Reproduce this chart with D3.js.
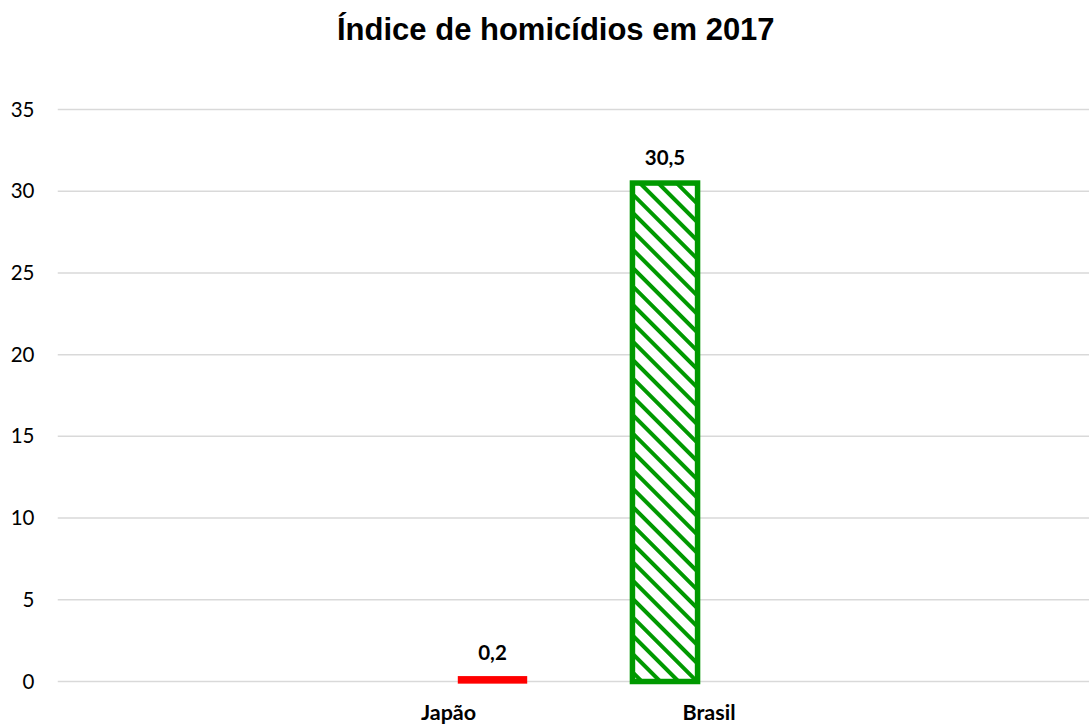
<!DOCTYPE html>
<html>
<head>
<meta charset="utf-8">
<script src="https://cdn.jsdelivr.net/npm/d3@7"></script>
<style>
  html, body { margin: 0; padding: 0; background: #fff; }
  svg { display: block; }
</style>
</head>
<body>
<svg id="chart" width="1089" height="724"></svg>
<script>
// Categories along the x axis (blank slots at both ends keep the spacing)
const categories = ["", "Japão", "Brasil", ""];
// One series per country, each with a value only in its own category
const seriesNames = ["Brasil", "Japão"];
const japaoValues = [null, 0.2, null, null];
const brasilValues = [null, null, 30.5, null];
const yTicks = [0, 5, 10, 15, 20, 25, 30, 35];
const titleText = "Índice de homicídios em 2017";

(function draw() {
  const svg = d3.select("#chart");
  const W = 1089;
  const plotLeft = 57.75, plotRight = 1099.75, plotTop = 109.5, plotBottom = 681.5;
  const bodyFont = "Lato, 'Open Sans', sans-serif";

  const y = d3.scaleLinear().domain([0, 35]).range([plotBottom, plotTop]);
  const x0 = d3.scaleBand().domain(categories.map((c, i) => i)).range([plotLeft, plotRight]).padding(0);
  const bw = x0.bandwidth();
  const x1 = d3.scaleBand().domain(seriesNames)
    .range([bw / 2 - 88, bw / 2 + 88]).paddingInner(0.26).paddingOuter(0.13);

  // Hatch pattern for the Brasil bar
  const defs = svg.append("defs");
  const pat = defs.append("pattern")
    .attr("id", "hatch").attr("patternUnits", "userSpaceOnUse")
    .attr("width", 13).attr("height", 13)
    .attr("patternTransform", "rotate(45)");
  pat.append("rect").attr("width", 13).attr("height", 13).attr("fill", "#fff");
  pat.append("rect").attr("x", 0).attr("y", 0).attr("width", 13).attr("height", 4).attr("fill", "#009900");

  // Title
  svg.append("text")
    .attr("x", 337).attr("y", 39.5)
    .attr("text-anchor", "start")
    .attr("font-family", "'Liberation Sans', Arial, sans-serif")
    .attr("font-weight", "bold").attr("font-size", 31)
    .attr("fill", "#000")
    .text(titleText);

  // Gridlines
  svg.append("g").selectAll("line").data(yTicks).join("line")
    .attr("x1", plotLeft).attr("x2", W)
    .attr("y1", d => y(d)).attr("y2", d => y(d))
    .attr("stroke", "#d9d9d9").attr("stroke-width", 1.5);

  // Y axis labels
  const yAxis = d3.axisLeft(y).tickValues(yTicks).tickSize(0).tickPadding(0).tickFormat(d3.format("d"));
  const ya = svg.append("g").attr("transform", "translate(34.5,0)").call(yAxis);
  ya.select(".domain").remove();
  ya.selectAll("text")
    .attr("font-family", bodyFont)
    .attr("font-size", 20.5).attr("fill", "#000");

  // X axis labels
  const xAxis = d3.axisBottom(x0).tickSize(0).tickPadding(0).tickFormat(i => categories[i]);
  const xa = svg.append("g").attr("transform", `translate(0,${plotBottom})`).call(xAxis);
  xa.select(".domain").remove();
  xa.selectAll("text")
    .attr("y", 38).attr("dy", 0)
    .attr("font-family", bodyFont)
    .attr("font-weight", "bold")
    .attr("font-size", 21.5).attr("fill", "#000");

  // Bars
  const bars = [];
  categories.forEach((c, i) => {
    if (japaoValues[i] != null) bars.push({ i, s: "Japão", v: japaoValues[i] });
    if (brasilValues[i] != null) bars.push({ i, s: "Brasil", v: brasilValues[i] });
  });
  const styles = {
    "Japão": { fill: "#ff0000", stroke: "#ff0000", sw: 4.3 },
    "Brasil": { fill: "url(#hatch)", stroke: "#009900", sw: 5.5 }
  };

  const g = svg.append("g");
  g.selectAll("rect").data(bars).join("rect")
    .attr("x", d => x0(d.i) + x1(d.s))
    .attr("width", x1.bandwidth())
    .attr("y", d => y(d.v))
    .attr("height", d => y(0) - y(d.v))
    .attr("fill", d => styles[d.s].fill)
    .attr("stroke", d => styles[d.s].stroke)
    .attr("stroke-width", d => styles[d.s].sw);

  // Value labels
  g.selectAll("text.val").data(bars).join("text")
    .attr("class", "val")
    .attr("x", d => x0(d.i) + x1(d.s) + x1.bandwidth() / 2)
    .attr("y", d => y(d.v) - 18)
    .attr("text-anchor", "middle")
    .attr("font-family", bodyFont)
    .attr("font-weight", "bold").attr("font-size", 20.5)
    .attr("fill", "#000")
    .text(d => d3.format(".1f")(d.v).replace(".", ","));
})();
</script>
</body>
</html>
